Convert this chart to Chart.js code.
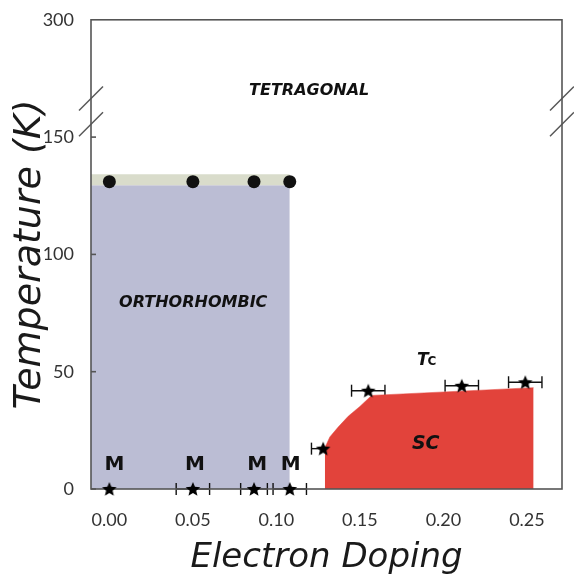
<!DOCTYPE html>
<html><head><meta charset="utf-8">
<script src="https://cdn.jsdelivr.net/npm/chart.js@4/dist/chart.umd.min.js"></script>
<style>html,body{margin:0;padding:0;background:#fff;}#wrap{width:574px;height:579px;}</style>
</head><body><div id="wrap"><canvas id="c" width="574" height="579"></canvas></div>
<script>
// ---- data ----
const xTickValues = [0.00, 0.05, 0.10, 0.15, 0.20, 0.25];
const yTickValues = [0, 50, 100, 150, 300];
// structural transition (circles)
const structX = [0.00, 0.05, 0.0866, 0.108];
const structT = [131, 131, 131, 131];
// magnetic (M) stars at T = 0
const magX = [0.00, 0.05, 0.0866, 0.108];
const magT = [0, 0, 0, 0];
const magErr = [0, 0.01, 0.008, 0.01];
// superconducting Tc stars
const tcX = [0.128, 0.155, 0.211, 0.249];
const tcT = [17.2, 41.9, 44.0, 45.5];
const tcErr = [0.007, 0.01, 0.01, 0.01];
// phase regions
const orthoEdgeX = 0.108;
const orthoTopT = 129.5;
const structBandTopT = 134.2;
const scBoundaryX = [0.129, 0.132, 0.137, 0.143, 0.150, 0.157, 0.254];
const scBoundaryT = [17.5, 22.2, 26.4, 31.0, 35.2, 39.9, 43.2];
// labels
const phaseLabels = ['TETRAGONAL', 'ORTHORHOMBIC', 'SC'];
const phaseLabelX = [0.1196, 0.0502, 0.1894];
const phaseLabelT = [209.6, 79.4, 19.2];
const mLabelX = [0.003, 0.0513, 0.0885, 0.1086];
const mLabelT = 10.4;
const tcLabelX = 0.1905;
const tcLabelT = 56;
// axis ranges / break
const xMin = -0.011, xMax = 0.271;
const breakT = 150, compress = 3, tTop = 300;

// broken-axis transform (above 150 K the axis is compressed)
const toD = t => t <= breakT ? t : breakT + (t - breakT) / compress;
const fromD = d => d <= breakT ? d : breakT + (d - breakT) * compress;

function makeStar(r) {
  const size = Math.ceil(r * 2) + 2;
  const c = document.createElement('canvas'); c.width = c.height = size;
  const g = c.getContext('2d'); g.fillStyle = '#000'; g.beginPath();
  for (let i = 0; i < 10; i++) {
    const a = -Math.PI / 2 + i * Math.PI / 5;
    const rr = i % 2 ? r * 0.45 : r;
    g.lineTo(size / 2 + rr * Math.cos(a), size / 2 + rr * Math.sin(a) + r * 0.08);
  }
  g.closePath(); g.fill(); return c;
}
const star = makeStar(7.6);

const BLUE = '#bbbdd4', BAND = '#d9dccb', RED = '#e2433b', FRAME = '#555555';

const datasets = [];
// orthorhombic region
datasets.push({ id: 'ortho', data: [{x: xMin, y: toD(orthoTopT)}, {x: orthoEdgeX, y: toD(orthoTopT)}],
  showLine: true, fill: 'origin', backgroundColor: BLUE, borderWidth: 0, pointRadius: 0, order: 6 });
// structural transition band
datasets.push({ id: 'band', data: [{x: xMin, y: toD(structBandTopT)}, {x: orthoEdgeX, y: toD(structBandTopT)}],
  showLine: true, fill: {value: toD(orthoTopT)}, backgroundColor: BAND, borderWidth: 0, pointRadius: 0, order: 5 });
// error bars
function addErr(xs, ts, es) {
  xs.forEach((x, i) => {
    if (!es[i]) return;
    datasets.push({ id: 'err', data: [{x: x - es[i], y: toD(ts[i])}, {x: x + es[i], y: toD(ts[i])}],
      showLine: true, borderColor: '#111', borderWidth: 1.4, pointStyle: 'line', pointRotation: 90,
      pointRadius: 6, pointBorderColor: '#111', pointBorderWidth: 1.4, fill: false, clip: false, order: 4 });
  });
}
addErr(magX, magT, magErr);
addErr(tcX, tcT, tcErr);
// SC dome
datasets.push({ id: 'sc', data: scBoundaryX.map((x, i) => ({x, y: toD(scBoundaryT[i])})),
  showLine: true, fill: 'origin', backgroundColor: RED, borderColor: RED, borderWidth: 0.5, pointRadius: 0, tension: 0, order: 3 });
// circles
datasets.push({ id: 'circ', data: structX.map((x, i) => ({x, y: toD(structT[i])})),
  showLine: false, pointStyle: 'circle', pointRadius: 6.5, backgroundColor: '#111', pointBorderWidth: 0, clip: false, order: 1 });
// stars
datasets.push({ id: 'star', data: magX.map((x, i) => ({x, y: toD(magT[i])})).concat(tcX.map((x, i) => ({x, y: toD(tcT[i])}))),
  showLine: false, pointStyle: star, pointRadius: 7, clip: false, order: 0 });

const decor = {
  id: 'decor',
  afterDatasetDraw(chart, args) {
    if (chart.data.datasets[args.index].id !== 'sc') return;
    const {ctx, chartArea: a} = chart;
    ctx.save();
    ctx.strokeStyle = FRAME; ctx.lineWidth = 1.6;
    ctx.strokeRect(a.left, a.top, a.right - a.left, a.bottom - a.top);
    const ys = chart.scales.y;
    [0, 50, 100, 150].forEach(v => {
      const p = ys.getPixelForValue(toD(v));
      ctx.beginPath(); ctx.moveTo(a.left, p); ctx.lineTo(a.left + 5, p); ctx.stroke();
    });
    ctx.restore();
  },
  afterDraw(chart) {
    const {ctx, chartArea: a} = chart;
    const xs = chart.scales.x, ys = chart.scales.y;
    ctx.save();
    // axis break marks
    ctx.strokeStyle = FRAME; ctx.lineWidth = 1.4;
    [155.5, 166.5].forEach(d => {
      const p = ys.getPixelForValue(d);
      [a.left, a.right].forEach(x => {
        ctx.beginPath(); ctx.moveTo(x - 12, p + 12); ctx.lineTo(x + 12, p - 12); ctx.stroke();
      });
    });
    // labels
    ctx.fillStyle = '#111'; ctx.textAlign = 'center'; ctx.textBaseline = 'middle';
    const sizes = [16, 16, 19];
    phaseLabels.forEach((t, i) => {
      ctx.font = `italic bold ${sizes[i]}px "DejaVu Sans"`;
      ctx.fillText(t, xs.getPixelForValue(phaseLabelX[i]), ys.getPixelForValue(toD(phaseLabelT[i])));
    });
    ctx.font = 'bold 20px "DejaVu Sans"';
    mLabelX.forEach(x => ctx.fillText('M', xs.getPixelForValue(x), ys.getPixelForValue(toD(mLabelT))));
    const tx = xs.getPixelForValue(tcLabelX), ty = ys.getPixelForValue(toD(tcLabelT));
    ctx.textBaseline = 'alphabetic';
    ctx.textAlign = 'right'; ctx.font = 'italic bold 17px "DejaVu Sans"';
    ctx.fillText('T', tx + 1, ty + 7);
    ctx.textAlign = 'left'; ctx.font = 'bold 12px "DejaVu Sans"';
    ctx.fillText('C', tx, ty + 7);
    ctx.restore();
  }
};

new Chart(document.getElementById('c'), {
  type: 'scatter',
  data: { datasets },
  plugins: [decor],
  options: {
    responsive: false, animation: false, devicePixelRatio: 1,
    layout: { padding: { top: 18, right: 12, left: 0, bottom: 0 } },
    plugins: { legend: { display: false }, tooltip: { enabled: false } },
    scales: {
      x: {
        type: 'linear', position: 'bottom', min: xMin, max: xMax,
        afterBuildTicks: s => { s.ticks = xTickValues.map(v => ({value: v})); },
        afterFit: s => { s.height = 90; },
        grid: { display: false }, border: { display: false },
        ticks: { callback: v => Number(v).toFixed(2), font: { family: 'Lato', size: 18 }, color: '#333', padding: 12, maxRotation: 0, autoSkip: false },
        title: { display: true, text: 'Electron Doping', color: '#1a1a1a', font: { family: 'DejaVu Sans', size: 34, style: 'italic', weight: 'normal' }, padding: { top: 0, bottom: 0 } }
      },
      y: {
        type: 'linear', position: 'left', min: 0, max: toD(tTop),
        afterBuildTicks: s => { s.ticks = yTickValues.map(v => ({value: toD(v)})); },
        afterFit: s => { s.width = 91; },
        grid: { display: false }, border: { display: false },
        ticks: { callback: v => String(Math.round(fromD(v))), font: { family: 'Lato', size: 18 }, color: '#333', padding: 9, autoSkip: false },
        title: { display: true, text: 'Temperature (K)', color: '#1a1a1a', font: { family: 'DejaVu Sans', size: 38, style: 'italic', weight: 'normal' }, padding: { top: 7, bottom: 0 } }
      }
    }
  }
});
</script></body></html>
